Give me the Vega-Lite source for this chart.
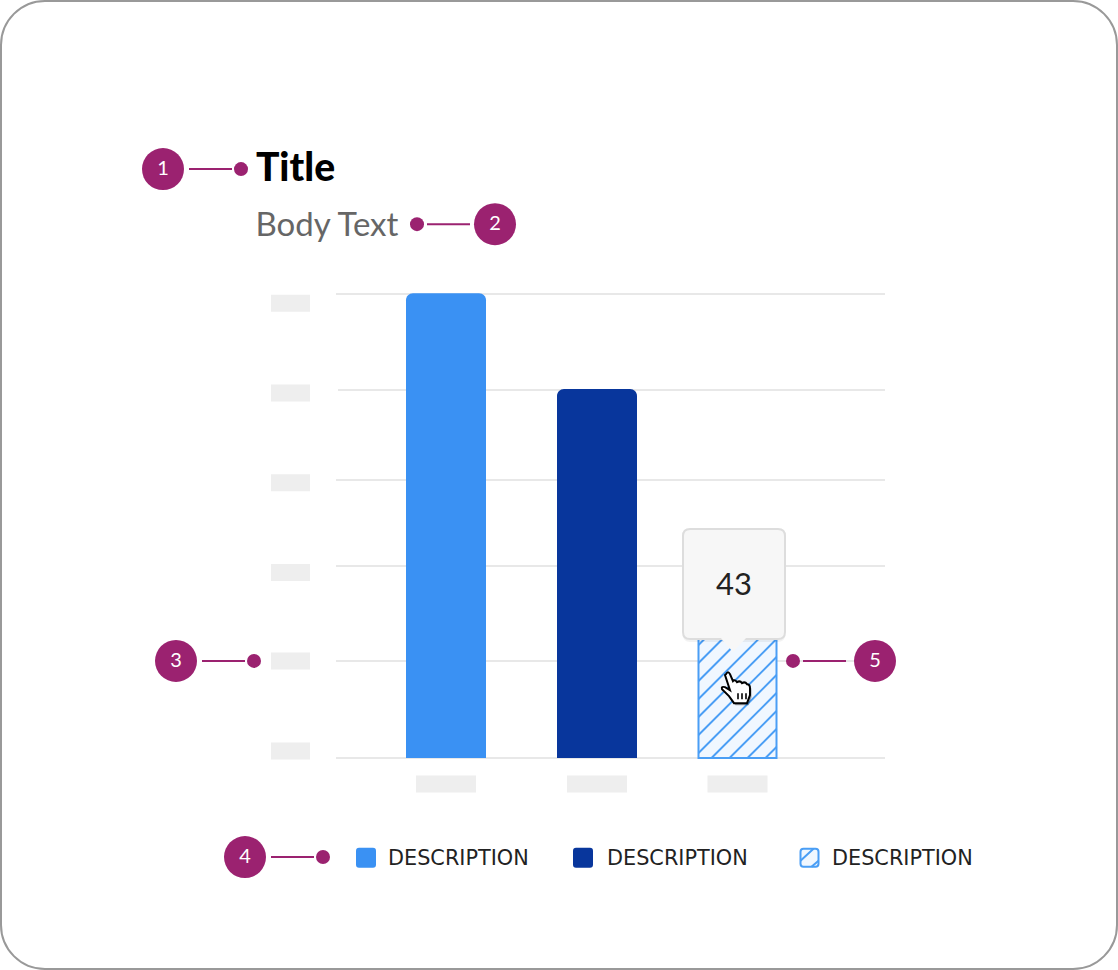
{
  "$schema": "https://vega.github.io/schema/vega-lite/v6.json",
  "description": "Anatomy of a bar chart with numbered callouts.",
  "width": 1118,
  "height": 970,
  "padding": 1,
  "autosize": {"type": "fit", "contains": "padding"},
  "background": "#ffffff",
  "view": {"stroke": "#999999", "strokeWidth": 2, "cornerRadius": 44, "fill": "#ffffff"},
  "datasets": {
    "barRows": [
      {"series": "A", "position": 446, "value": 150.3},
      {"series": "B", "position": 597, "value": 119.3},
      {"series": "C", "position": 737.5, "value": 43}
    ],
    "tickRows": [
      {"position": 336, "lineTo": 885, "labelPosition": 290.5, "value": 0, "labelValue": 2.3},
      {"position": 336, "lineTo": 885, "labelPosition": 290.5, "value": 31.4, "labelValue": 31.4},
      {"position": 336, "lineTo": 885, "labelPosition": 290.5, "value": 62.1, "labelValue": 60},
      {"position": 336, "lineTo": 885, "labelPosition": 290.5, "value": 89.9, "labelValue": 89},
      {"position": 338, "lineTo": 885, "labelPosition": 290.5, "value": 119, "labelValue": 118},
      {"position": 336, "lineTo": 885, "labelPosition": 290.5, "value": 150, "labelValue": 147}
    ],
    "legendRows": [
      {"series": "A", "position": 366, "labelPosition": 388, "value": -32.2, "label": "DESCRIPTION"},
      {"series": "B", "position": 583, "labelPosition": 607, "value": -32.2, "label": "DESCRIPTION"},
      {"series": "C", "position": 809.5, "labelPosition": 832, "value": -32.2, "label": "DESCRIPTION"}
    ],
    "calloutRows": [
      {"n": "1", "position": 163, "value": 190.4, "dot": 241, "lineFrom": 189, "lineTo": 232},
      {"n": "2", "position": 495, "value": 172.6, "dot": 417, "lineFrom": 427, "lineTo": 470},
      {"n": "3", "position": 176, "value": 31.4, "dot": 254, "lineFrom": 202, "lineTo": 245},
      {"n": "4", "position": 245, "value": -32, "dot": 323, "lineFrom": 271, "lineTo": 314},
      {"n": "5", "position": 875, "value": 31.4, "dot": 793, "lineFrom": 803, "lineTo": 846}
    ]
  },
  "encoding": {
    "x": {"field": "position", "type": "quantitative", "axis": null, "scale": {"domain": [1, 1117], "nice": false, "zero": false, "padding": 0}},
    "y": {"field": "value", "type": "quantitative", "axis": null, "stack": null, "scale": {"domain": [-68.2, 244.75], "nice": false, "zero": false, "padding": 0}},
    "color": {"field": "series", "type": "nominal", "legend": null, "scale": {"domain": ["A", "B", "C"], "range": ["#3A91F3", "#08369C", "#F0F7FF"]}}
  },
  "layer": [
    {
      "data": {"name": "tickRows"},
      "mark": {"type": "rule", "strokeWidth": 2},
      "encoding": {
        "x2": {"field": "lineTo"},
        "color": {"value": "#E8E8E8"}
      }
    },
    {
      "data": {"name": "tickRows"},
      "mark": {"type": "point", "filled": true, "opacity": 1, "size": 4, "shape": "M-19.5,-8.5H19.5V8.5H-19.5Z"},
      "encoding": {
        "x": {"field": "labelPosition", "type": "quantitative"},
        "y": {"field": "labelValue", "type": "quantitative"},
        "color": {"value": "#EEEEEE"}
      }
    },
    {
      "data": {"name": "barRows"},
      "mark": {"type": "point", "filled": true, "opacity": 1, "size": 4, "shape": "M-30,-8.5H30V8.5H-30Z"},
      "encoding": {
        "y": {"datum": -8.4},
        "color": {"value": "#EEEEEE"}
      }
    },
    {
      "data": {"name": "barRows"},
      "transform": [{"filter": "datum.series !== 'C'"}],
      "mark": {"type": "bar", "orient": "vertical", "width": 80, "cornerRadiusTopLeft": 7, "cornerRadiusTopRight": 7}
    },
    {
      "data": {"name": "barRows"},
      "transform": [{"filter": "datum.series === 'C'"}],
      "mark": {"type": "bar", "orient": "vertical", "width": 78, "stroke": "#4A9EF5", "strokeWidth": 2}
    },
    {
      "data": {"name": "barRows"},
      "transform": [{"filter": "datum.series === 'C'"}],
      "mark": {
        "type": "point", "filled": false, "opacity": 1, "size": 4, "strokeWidth": 2, "stroke": "#4A9EF5",
        "shape": "M-39,-113L-19,-133M-39,-95L-1,-133M-39,-77L17,-133M-39,-59L35,-133M-39,-41L39,-119M-39,-23L39,-101M-39,-5L39,-83M-26,0L39,-65M-8,0L39,-47M10,0L39,-29M28,0L39,-11"
      },
      "encoding": {"y": {"datum": 0}, "color": {"value": "#4A9EF5"}}
    },
    {
      "data": {"values": [{"position": 734, "value": 56.3}]},
      "mark": {
        "type": "point", "filled": true, "opacity": 0.05, "size": 4, "yOffset": 3,
        "shape": "M-44,-55H44Q51,-55 51,-48V48Q51,55 44,55H-44Q-51,55 -51,48V-48Q-51,-55 -44,-55Z"
      },
      "encoding": {"color": {"value": "#000000"}}
    },
    {
      "data": {"values": [{"position": 734, "value": 56.3}]},
      "mark": {
        "type": "point", "filled": true, "opacity": 1, "size": 4, "stroke": "#DDDDDD", "strokeWidth": 2,
        "shape": "M-44,-55H44Q51,-55 51,-48V48Q51,55 44,55H-44Q-51,55 -51,48V-48Q-51,-55 -44,-55Z"
      },
      "encoding": {"color": {"value": "#F7F7F7"}}
    },
    {
      "data": {"values": [{"position": 734, "value": 56.3}]},
      "mark": {"type": "point", "filled": true, "opacity": 1, "size": 4, "shape": "M-14,53H13L-1,68Z"},
      "encoding": {"color": {"value": "#F7F7F7"}}
    },
    {
      "data": {"values": [{"position": 734, "value": 55.6, "label": "43"}]},
      "mark": {"type": "text", "font": "Lato", "fontSize": 31, "align": "center", "baseline": "middle"},
      "encoding": {"text": {"field": "label"}, "color": {"value": "#222222"}}
    },
    {
      "data": {"values": [{"position": 737, "value": 22.6}]},
      "mark": {
        "type": "point", "filled": true, "opacity": 0.35, "size": 4, "xOffset": 1.5, "yOffset": 2,
        "shape": "M-11,-14Q-9,-18 -7,-14L-4,-7Q-2,-9 0,-6Q3,-8 5,-5Q8,-7 10,-4Q13,-4 13,0L13,7L10,15L-3,15L-8,8L-15,1Q-16,-2 -12,-1L-7,2L-12,-13Z"
      },
      "encoding": {"color": {"value": "#000000"}}
    },
    {
      "data": {"values": [{"position": 737, "value": 22.6}]},
      "mark": {
        "type": "point", "filled": true, "opacity": 1, "size": 4, "stroke": "#000000", "strokeWidth": 2,
        "shape": "M-11,-14Q-9,-18 -7,-14L-4,-7Q-2,-9 0,-6Q3,-8 5,-5Q8,-7 10,-4Q13,-4 13,0L13,7L10,15L-3,15L-8,8L-15,1Q-16,-2 -12,-1L-7,2L-12,-13Z"
      },
      "encoding": {"color": {"value": "#FFFFFF"}}
    },
    {
      "data": {"values": [{"position": 737, "value": 22.6}]},
      "mark": {
        "type": "point", "filled": false, "opacity": 1, "size": 4, "stroke": "#000000", "strokeWidth": 1.6,
        "shape": "M1,5L1,11M5,5L5,11M9,5L9,11"
      },
      "encoding": {"color": {"value": "#000000"}}
    },
    {
      "data": {"name": "legendRows"},
      "transform": [{"filter": "datum.series !== 'C'"}],
      "mark": {
        "type": "point", "filled": true, "opacity": 1, "size": 4,
        "shape": "M-7,-10H7Q10,-10 10,-7V7Q10,10 7,10H-7Q-10,10 -10,7V-7Q-10,-10 -7,-10Z"
      }
    },
    {
      "data": {"name": "legendRows"},
      "transform": [{"filter": "datum.series === 'C'"}],
      "mark": {
        "type": "point", "filled": true, "opacity": 1, "size": 4, "stroke": "#4A9EF5", "strokeWidth": 2,
        "shape": "M-6,-9H6Q9,-9 9,-6V6Q9,9 6,9H-6Q-9,9 -9,6V-6Q-9,-9 -6,-9Z"
      }
    },
    {
      "data": {"name": "legendRows"},
      "transform": [{"filter": "datum.series === 'C'"}],
      "mark": {
        "type": "point", "filled": false, "opacity": 1, "size": 4, "stroke": "#4A9EF5", "strokeWidth": 2,
        "shape": "M-9,3L4,-9M2,9L9,3"
      },
      "encoding": {"color": {"value": "#4A9EF5"}}
    },
    {
      "data": {"name": "legendRows"},
      "mark": {"type": "text", "font": "DejaVu Sans", "fontSize": 20.8, "align": "left", "baseline": "middle", "dy": 1},
      "encoding": {
        "x": {"field": "labelPosition", "type": "quantitative"},
        "text": {"field": "label"},
        "color": {"value": "#222222"}
      }
    },
    {
      "data": {"name": "calloutRows"},
      "mark": {"type": "rule", "strokeWidth": 2},
      "encoding": {
        "x": {"field": "lineFrom", "type": "quantitative"},
        "x2": {"field": "lineTo"},
        "color": {"value": "#9B2270"}
      }
    },
    {
      "data": {"name": "calloutRows"},
      "mark": {"type": "point", "shape": "circle", "filled": true, "opacity": 1, "size": 196},
      "encoding": {
        "x": {"field": "dot", "type": "quantitative"},
        "color": {"value": "#9B2270"}
      }
    },
    {
      "data": {"name": "calloutRows"},
      "mark": {"type": "point", "shape": "circle", "filled": true, "opacity": 1, "size": 1764},
      "encoding": {"color": {"value": "#9B2270"}}
    },
    {
      "data": {"name": "calloutRows"},
      "mark": {"type": "text", "font": "Lato", "fontSize": 20, "align": "center", "baseline": "middle"},
      "encoding": {"text": {"field": "n"}, "color": {"value": "#FFFFFF"}}
    },
    {
      "data": {"values": [{"position": 256, "value": 190.5, "label": "Title"}]},
      "mark": {"type": "text", "font": "Lato", "fontWeight": 900, "fontSize": 39, "align": "left", "baseline": "middle"},
      "encoding": {"text": {"field": "label"}, "color": {"value": "#000000"}}
    },
    {
      "data": {"values": [{"position": 255.5, "value": 172, "label": "Body Text"}]},
      "mark": {"type": "text", "font": "Lato", "fontSize": 33, "align": "left", "baseline": "middle"},
      "encoding": {"text": {"field": "label"}, "color": {"value": "#666666"}}
    }
  ]
}
